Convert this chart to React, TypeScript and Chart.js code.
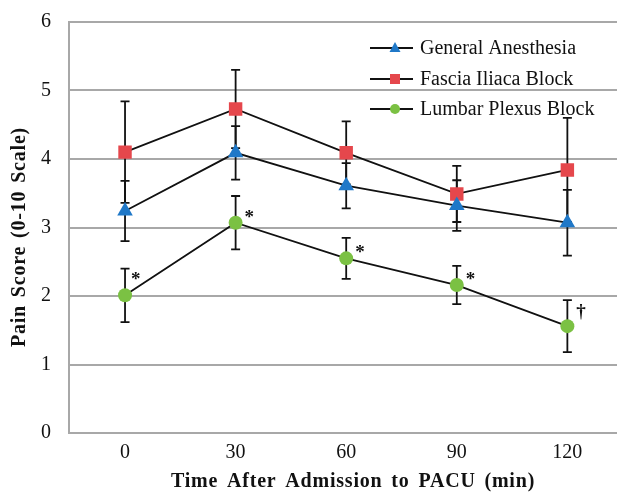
import React, { useEffect, useRef } from "react";
import { Chart, registerables } from "chart.js";

Chart.register(...registerables);

const timePoints = [0, 30, 60, 90, 120];
const xTickValues = [0, 30, 60, 90, 120];
const yTickValues = [0, 1, 2, 3, 4, 5, 6];
const xTitle = "Time After Admission to PACU (min)";
const yTitle = "Pain Score (0-10 Scale)";

const seriesNames = ["General Anesthesia", "Fascia Iliaca Block", "Lumbar Plexus Block"];
const generalAnesthesia = [3.24, 4.09, 3.61, 3.32, 3.07];
const generalAnesthesiaErr = [0.44, 0.39, 0.33, 0.37, 0.48];
const fasciaIliaca = [4.1, 4.73, 4.09, 3.49, 3.84];
const fasciaIliacaErr = [0.74, 0.57, 0.46, 0.41, 0.76];
const lumbarPlexus = [2.01, 3.07, 2.55, 2.16, 1.56];
const lumbarPlexusErr = [0.39, 0.39, 0.3, 0.28, 0.38];
const lumbarMarks = ["*", "*", "*", "*", "†"];

const seriesColors = ["#1f78c8", "#e5474c", "#7bc143"];
const seriesShapes = ["triangle", "rect", "circle"];

const errorsBySeries = [generalAnesthesiaErr, fasciaIliacaErr, lumbarPlexusErr];

const errorBarPlugin = {
  id: "errorBars",
  beforeDatasetsDraw(chart: any) {
    const ctx = chart.ctx;
    const y = chart.scales.y;
    ctx.save();
    ctx.strokeStyle = "#111";
    ctx.lineWidth = 1.8;
    chart.data.datasets.forEach((ds: any, di: number) => {
      const meta = chart.getDatasetMeta(di);
      meta.data.forEach((pt: any, i: number) => {
        const v = ds.data[i].y;
        const e = errorsBySeries[di][i];
        const top = y.getPixelForValue(v + e);
        const bot = y.getPixelForValue(v - e);
        const x = pt.x;
        ctx.beginPath();
        ctx.moveTo(x, top);
        ctx.lineTo(x, bot);
        ctx.moveTo(x - 4.5, top);
        ctx.lineTo(x + 4.5, top);
        ctx.moveTo(x - 4.5, bot);
        ctx.lineTo(x + 4.5, bot);
        ctx.stroke();
      });
    });
    ctx.restore();
  },
  afterDatasetsDraw(chart: any) {
    const ctx = chart.ctx;
    const meta = chart.getDatasetMeta(2);
    ctx.save();
    ctx.fillStyle = "#111";
    ctx.font = "bold 19px 'Liberation Serif'";
    ctx.textAlign = "left";
    ctx.textBaseline = "middle";
    meta.data.forEach((pt: any, i: number) => {
      const mark = lumbarMarks[i];
      const dy = i === 0 ? -15 : mark === "†" ? -14 : -5;
      ctx.fillText(mark, pt.x + (i === 0 ? 6 : 9), pt.y + dy);
    });
    ctx.restore();
  },
};

const titlePlugin = {
  id: "axisTitles",
  afterDraw(chart: any) {
    const ctx = chart.ctx;
    ctx.save();
    ctx.fillStyle = "#111";
    ctx.font = "bold 20px 'Liberation Serif'";
    ctx.textAlign = "center";
    ctx.textBaseline = "middle";
    (ctx as any).letterSpacing = "0.8px";
    (ctx as any).wordSpacing = "3px";
    ctx.fillText(xTitle, 353, 482);
    (ctx as any).wordSpacing = "2px";
    ctx.translate(20, 237);
    ctx.rotate(-Math.PI / 2);
    ctx.fillText(yTitle, 0, 0);
    ctx.restore();
  },
};

const legendPlugin = {
  id: "customLegend",
  afterDraw(chart: any) {
    const ctx = chart.ctx;
    const rows = [48, 79, 109];
    ctx.save();
    seriesNames.forEach((name, i) => {
      const yy = rows[i];
      ctx.strokeStyle = "#111";
      ctx.lineWidth = 1.8;
      ctx.beginPath();
      ctx.moveTo(370, yy);
      ctx.lineTo(413, yy);
      ctx.stroke();
      ctx.fillStyle = seriesColors[i];
      ctx.beginPath();
      if (seriesShapes[i] === "triangle") {
        ctx.moveTo(395, yy - 6);
        ctx.lineTo(400.5, yy + 4);
        ctx.lineTo(389.5, yy + 4);
        ctx.closePath();
      } else if (seriesShapes[i] === "rect") {
        ctx.rect(390, yy - 5, 10, 10);
      } else {
        ctx.arc(395, yy, 5, 0, Math.PI * 2);
      }
      ctx.fill();
      ctx.fillStyle = "#111";
      ctx.font = "20px 'Liberation Serif'";
      ctx.textAlign = "left";
      ctx.textBaseline = "middle";
      ctx.fillText(name, 420, yy + 1);
    });
    ctx.restore();
  },
};

const zeroPad = (s: any) => {
  s.paddingTop = 0;
  s.paddingBottom = 0;
  s.paddingLeft = 0;
  s.paddingRight = 0;
};

export default function App() {
  const ref = useRef<HTMLCanvasElement>(null);
  useEffect(() => {
    if (!ref.current) return;
    const values = [generalAnesthesia, fasciaIliaca, lumbarPlexus];
    const chart = new Chart(ref.current, {
      type: "line",
      data: {
        datasets: seriesNames.map((name, i) => ({
          label: name,
          data: timePoints.map((t, j) => ({ x: t, y: values[i][j] })),
          borderColor: "#111",
          borderWidth: 1.8,
          backgroundColor: seriesColors[i],
          pointBackgroundColor: seriesColors[i],
          pointBorderColor: seriesColors[i],
          pointBorderWidth: 0,
          pointStyle: seriesShapes[i] as any,
          pointRadius: i === 0 ? 9 : i === 1 ? 9.5 : 7,
          tension: 0,
        })),
      },
      options: {
        animation: false,
        responsive: true,
        maintainAspectRatio: false,
        layout: { padding: { top: 22, right: 0, left: 0, bottom: 0 } },
        plugins: {
          legend: { display: false },
          tooltip: { enabled: false },
        },
        scales: {
          x: {
            type: "linear",
            min: -15.2,
            max: 133.6,
            afterBuildTicks: (s: any) => {
              s.ticks = xTickValues.map((v) => ({ value: v }));
            },
            afterFit: (s: any) => {
              s.height = 62;
              zeroPad(s);
            },
            grid: { display: false, drawTicks: false },
            border: { display: false },
            ticks: {
              color: "#111",
              font: { family: "'Liberation Serif'", size: 20 },
              padding: 8,
              maxRotation: 0,
              autoSkip: false,
            },
            title: { display: false },
          },
          y: {
            min: 0,
            max: 6,
            afterBuildTicks: (s: any) => {
              s.ticks = yTickValues.map((v) => ({ value: v }));
            },
            afterFit: (s: any) => {
              s.width = 69;
              zeroPad(s);
            },
            grid: { color: "#a8a8a8", lineWidth: 2, drawTicks: false },
            border: { display: true, color: "#a8a8a8", width: 2 },
            ticks: {
              color: "#111",
              font: { family: "'Liberation Serif'", size: 20 },
              padding: 18,
            },
            title: { display: false },
          },
        },
      },
      plugins: [errorBarPlugin, legendPlugin, titlePlugin],
    });
    return () => chart.destroy();
  }, []);
  return (
    <div style={{ position: "fixed", left: 0, top: 0, width: 627, height: 495, background: "#fff" }}>
      <canvas ref={ref} />
    </div>
  );
}
